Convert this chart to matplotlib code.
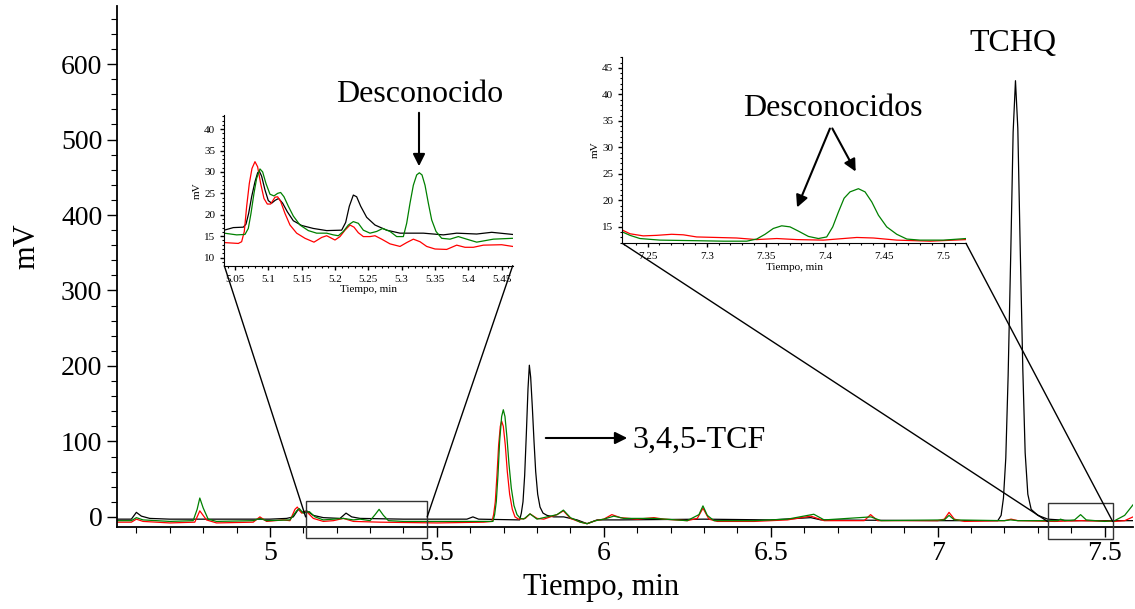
import numpy as np
import matplotlib
matplotlib.use("Agg")
import matplotlib.pyplot as plt
from matplotlib.patches import Rectangle, ConnectionPatch
from matplotlib.ticker import MultipleLocator

plt.rcParams["font.family"] = ["Liberation Serif", "DejaVu Serif"]

# main chromatogram, (time min, mV)
black = [(4.542, -3), (4.585, -3), (4.600, 6), (4.615, 1), (4.64, -2), (4.70, -3), (5.00, -3),
         (5.05, -2), (5.07, 0), (5.085, 10), (5.095, 6), (5.11, 8), (5.13, 2), (5.16, -1),
         (5.21, -2), (5.228, 5), (5.245, 0), (5.27, -2), (5.40, -3), (5.59, -3), (5.608, 0),
         (5.625, -3), (5.748, -4), (5.753, 5), (5.758, 20), (5.763, 55), (5.768, 110),
         (5.773, 170), (5.777, 201), (5.781, 185), (5.786, 145), (5.791, 100), (5.796, 60),
         (5.802, 30), (5.809, 13), (5.818, 5), (5.83, 2), (5.85, 0), (5.88, 0), (5.92, -4),
         (5.95, -9), (5.98, -4), (6.05, -4), (6.30, -3), (6.50, -4), (6.62, -1), (6.65, -4),
         (7.00, -5), (7.18, -5), (7.19, 2), (7.197, 25), (7.204, 78), (7.211, 187),
         (7.219, 352), (7.226, 510), (7.233, 578), (7.240, 515), (7.247, 360), (7.255, 195),
         (7.262, 85), (7.27, 30), (7.28, 10), (7.30, 2), (7.33, -3), (7.40, -5), (7.585, -5)]

red = [(4.542, -7), (4.585, -7), (4.60, -3), (4.62, -6), (4.70, -8), (4.775, -7), (4.79, 8),
       (4.81, -4), (4.84, -8), (4.95, -7), (4.97, 0), (4.99, -6), (5.04, -4), (5.06, -5),
       (5.075, 10), (5.082, 13), (5.095, 5), (5.11, 7), (5.13, -2), (5.16, -6), (5.19, -5),
       (5.22, -2), (5.25, -6), (5.33, -7), (5.50, -8), (5.64, -7), (5.665, -6), (5.670, 3),
       (5.675, 20), (5.680, 55), (5.685, 95), (5.690, 120), (5.694, 127), (5.699, 120),
       (5.705, 95), (5.711, 60), (5.718, 30), (5.726, 10), (5.734, 0), (5.745, -3),
       (5.765, -2), (5.779, 4), (5.80, -2), (5.82, -3), (5.86, 3), (5.879, 8), (5.90, -2),
       (5.93, -7), (5.95, -9), (5.975, -5), (6.00, -3), (6.024, 3), (6.05, -1), (6.10, -3),
       (6.15, -1), (6.18, -3), (6.25, -5), (6.28, -2), (6.297, 11.5), (6.315, -3), (6.34, -6),
       (6.45, -6), (6.55, -4), (6.62, 1), (6.66, -5), (6.78, -5), (6.799, 3), (6.82, -5),
       (7.00, -5), (7.02, -3), (7.034, 6), (7.05, -3), (7.08, -6), (7.20, -5), (7.22, -3),
       (7.24, -5), (7.35, -6), (7.43, -5), (7.53, -6), (7.56, -5), (7.585, 0)]

green = [(4.542, -5), (4.585, -5), (4.60, -1), (4.62, -4), (4.70, -6), (4.77, -5), (4.782, 10),
         (4.79, 25), (4.80, 12), (4.815, -3), (4.84, -6), (4.95, -5), (4.97, -2), (4.99, -5),
         (5.06, -4), (5.08, 8), (5.088, 11), (5.10, 5), (5.118, 7), (5.135, 0), (5.16, -4),
         (5.22, -2), (5.25, -4), (5.27, -3), (5.30, -5), (5.315, 3), (5.327, 10), (5.34, 2),
         (5.355, -5), (5.40, -6), (5.60, -6), (5.668, -6), (5.673, 3), (5.678, 20), (5.683, 55),
         (5.688, 100), (5.694, 133), (5.699, 142), (5.704, 133), (5.710, 105), (5.716, 70),
         (5.723, 38), (5.731, 15), (5.740, 3), (5.75, -2), (5.76, -3), (5.779, 4), (5.80, -3),
         (5.86, 3), (5.879, 9), (5.90, -1), (5.93, -7), (5.95, -9), (5.975, -5), (6.00, -3),
         (6.03, 1), (6.06, -2), (6.15, -2), (6.25, -5), (6.285, 3), (6.297, 14.6), (6.31, 2),
         (6.33, -5), (6.45, -5), (6.55, -3), (6.629, 3.5), (6.66, -4), (6.80, 0), (6.83, -5),
         (7.02, -4), (7.034, 2), (7.05, -4), (7.20, -5), (7.218, -4), (7.24, -5), (7.36, -5),
         (7.368, -3), (7.38, -5), (7.41, -4), (7.428, 3), (7.445, -4), (7.50, -6), (7.53, -5),
         (7.56, 2), (7.585, 16)]

# inset 1, 5.03 - 5.47 min
black_z1 = [(5.034, 16.4), (5.0475, 17.0), (5.0625, 17.1), (5.0665, 17.8), (5.0705, 20.3),
            (5.075, 24.2), (5.08, 27.7), (5.084, 29.8), (5.0865, 30.2), (5.09, 29.0),
            (5.095, 25.8), (5.10, 23.3), (5.105, 22.7), (5.1105, 23.4), (5.1155, 23.8),
            (5.1215, 22.7), (5.1285, 20.7), (5.1375, 18.6), (5.15, 17.5), (5.1675, 16.8),
            (5.1875, 16.3), (5.21, 16.4), (5.216, 18.2), (5.2215, 22.0), (5.2275, 24.6),
            (5.2325, 24.2), (5.2385, 22.0), (5.2475, 19.4), (5.26, 17.6), (5.2775, 16.4),
            (5.2975, 15.7), (5.3325, 15.7), (5.3625, 15.3), (5.3825, 15.7), (5.4125, 15.5),
            (5.435, 15.9), (5.4665, 15.4)]
red_z1 = [(5.034, 13.5), (5.055, 13.3), (5.06, 13.7), (5.064, 16.1), (5.0675, 21.9),
          (5.0715, 27.3), (5.0755, 30.8), (5.08, 32.4), (5.084, 31.2), (5.0885, 27.3),
          (5.0935, 23.8), (5.0985, 22.5), (5.1035, 22.5), (5.11, 24.1), (5.114, 24.2),
          (5.1185, 23.1), (5.125, 20.3), (5.1325, 17.6), (5.1425, 15.7), (5.155, 14.5),
          (5.1685, 13.6), (5.18, 14.7), (5.1875, 15.1), (5.195, 14.5), (5.20, 14.1),
          (5.2075, 14.9), (5.215, 16.4), (5.2225, 17.6), (5.2285, 17.1), (5.235, 15.8),
          (5.2425, 14.9), (5.2525, 14.9), (5.26, 15.1), (5.27, 14.3), (5.2825, 13.2),
          (5.2975, 12.6), (5.3075, 13.5), (5.3175, 14.3), (5.3275, 13.7), (5.3375, 12.6),
          (5.35, 12.0), (5.3675, 11.9), (5.3825, 12.9), (5.395, 12.4), (5.4075, 12.4),
          (5.4225, 12.9), (5.45, 13.0), (5.4665, 12.6)]
green_z1 = [(5.034, 15.7), (5.0525, 15.3), (5.065, 15.4), (5.07, 16.8), (5.074, 20.3),
            (5.0785, 25.0), (5.0825, 28.5), (5.0875, 30.7), (5.0915, 30.0), (5.0965, 27.3),
            (5.1025, 24.8), (5.1085, 24.4), (5.114, 25.0), (5.1185, 25.2), (5.1235, 24.2),
            (5.13, 22.0), (5.1375, 19.7), (5.1475, 17.6), (5.16, 16.3), (5.1725, 15.7),
            (5.1875, 15.7), (5.1975, 15.3), (5.205, 15.1), (5.2125, 16.1), (5.22, 17.6),
            (5.2275, 18.4), (5.235, 18.0), (5.2425, 16.4), (5.2525, 15.7), (5.2625, 16.1),
            (5.2715, 16.8), (5.2825, 16.1), (5.2925, 14.9), (5.3025, 14.9), (5.3075, 18.0),
            (5.3125, 22.7), (5.3175, 26.9), (5.3225, 29.3), (5.3265, 29.8), (5.3305, 29.3),
            (5.335, 26.9), (5.34, 22.7), (5.345, 18.8), (5.3515, 16.1), (5.36, 14.5),
            (5.3725, 14.3), (5.385, 14.9), (5.3975, 14.3), (5.4125, 13.6), (5.4375, 14.3),
            (5.4665, 14.5)]

# inset 2, 7.23 - 7.52 min
green_z2 = [(7.2286, 14.05), (7.2351, 13.4), (7.2435, 12.8), (7.2604, 12.5), (7.2886, 12.4),
            (7.314, 12.3), (7.3337, 12.3), (7.3421, 12.7), (7.3492, 13.6), (7.3562, 14.7),
            (7.3633, 15.2), (7.3703, 15.0), (7.3774, 14.2), (7.3858, 13.2), (7.3943, 12.8),
            (7.4013, 13.1), (7.4064, 15.0), (7.4112, 17.8), (7.416, 20.4), (7.421, 21.6),
            (7.4281, 22.2), (7.4337, 21.6), (7.4394, 19.7), (7.445, 17.2), (7.452, 15.0),
            (7.4605, 13.6), (7.469, 12.7), (7.4802, 12.5), (7.50, 12.5), (7.5191, 12.8)]
red_z2 = [(7.2286, 14.4), (7.2351, 13.7), (7.2463, 13.3), (7.2576, 13.4), (7.2703, 13.6),
          (7.2802, 13.5), (7.2914, 13.1), (7.3083, 13.0), (7.3252, 12.9), (7.3421, 12.6),
          (7.3591, 12.8), (7.376, 12.6), (7.3985, 12.5), (7.4154, 12.8), (7.4267, 13.0),
          (7.4408, 12.9), (7.4605, 12.5), (7.4887, 12.3), (7.5191, 12.6)]

W, H = 1135, 609
fig = plt.figure(figsize=(W / 100, H / 100), dpi=100)


def fx(px):
    return px / W


def fy(py):
    return 1 - py / H


def xy(t):
    a = np.array(t)
    return a[:, 0], a[:, 1]


def style(a, fs, maj, mnr):
    for s in ["top", "right"]:
        a.spines[s].set_visible(False)
    a.tick_params(labelsize=fs, length=maj, width=1)
    a.tick_params(which="minor", length=mnr, width=0.8)


ax = fig.add_axes([fx(117), fy(526.7), fx(1133 - 117), (526.7 - 6) / H])
for data, c in [(black, "black"), (red, "red"), (green, "green")]:
    ax.plot(*xy(data), color=c, lw=0.9)
ax.set_xlim(4.542, 7.585)
ax.set_ylim(-13, 677)
ax.set_xticks([5, 5.5, 6, 6.5, 7, 7.5])
ax.set_xticklabels(["5", "5.5", "6", "6.5", "7", "7.5"])
ax.xaxis.set_minor_locator(MultipleLocator(0.1))
ax.set_yticks(range(0, 601, 100))
ax.yaxis.set_minor_locator(MultipleLocator(20))
style(ax, 20, 7, 4)
for s in ["left", "bottom"]:
    ax.spines[s].set_linewidth(1.3)
ax.set_xlabel("Tiempo, min", fontsize=22)
ax.xaxis.set_label_coords(0.476, -0.088)
ax.set_ylabel("mV", fontsize=22)
ax.yaxis.set_label_coords(-0.074, 0.539)

# zoom boxes
ax.add_patch(Rectangle((5.107, -27.8), 5.471 - 5.107, 48.6, fill=False,
                       ec="#333333", lw=1, clip_on=False, zorder=5))
ax.add_patch(Rectangle((7.329, -29.5), 7.524 - 7.329, 48.5, fill=False,
                       ec="#333333", lw=1, clip_on=False, zorder=5))

# inset 1
ax1 = fig.add_axes([fx(224.3), fy(265.7), fx(512.7 - 224.3), (265.7 - 115) / H])
for data, c in [(black_z1, "black"), (red_z1, "red"), (green_z1, "green")]:
    ax1.plot(*xy(data), color=c, lw=0.9)
ax1.set_xlim(5.034, 5.4665)
ax1.set_ylim(8.1, 43.3)
ax1.set_xticks(np.arange(5.05, 5.46, 0.05))
ax1.set_xticklabels(["5.05", "5.1", "5.15", "5.2", "5.25", "5.3", "5.35", "5.4", "5.45"])
ax1.xaxis.set_minor_locator(MultipleLocator(0.01))
ax1.set_yticks(range(10, 41, 5))
ax1.yaxis.set_minor_locator(MultipleLocator(1))
style(ax1, 8, 3, 1.5)
ax1.set_xlabel("Tiempo, min", fontsize=8, labelpad=1)
ax1.set_ylabel("mV", fontsize=8, labelpad=2)
ax1.patch.set_alpha(0)

# inset 2
ax2 = fig.add_axes([fx(622.3), fy(243.3), fx(966 - 622.3), (243.3 - 56.7) / H])
for data, c in [(red_z2, "red"), (green_z2, "green")]:
    ax2.plot(*xy(data), color=c, lw=0.9)
ax2.set_xlim(7.2286, 7.519)
ax2.set_ylim(11.9, 47.1)
ax2.set_xticks([7.25, 7.3, 7.35, 7.4, 7.45, 7.5])
ax2.set_xticklabels(["7.25", "7.3", "7.35", "7.4", "7.45", "7.5"])
ax2.xaxis.set_minor_locator(MultipleLocator(0.01))
ax2.set_yticks(range(15, 46, 5))
ax2.yaxis.set_minor_locator(MultipleLocator(1))
style(ax2, 8, 3, 1.5)
ax2.set_xlabel("Tiempo, min", fontsize=8, labelpad=1)
ax2.set_ylabel("mV", fontsize=8, labelpad=2)
ax2.patch.set_alpha(0)

# connector lines
for ins, xa, xb, yb in [(ax1, 0, 5.107, 0), (ax1, 1, 5.471, 0),
                        (ax2, 0, 7.329, -6), (ax2, 1, 7.524, -6)]:
    con = ConnectionPatch(xyA=(xa, 0), coordsA=ins.transAxes, xyB=(xb, yb),
                          coordsB=ax.transData, color="black", lw=1)
    fig.add_artist(con)

# labels
arr = dict(arrowstyle="-|>", color="black", lw=1.5, mutation_scale=18)
fig.text(fx(420), fy(95), "Desconocido", fontsize=23, ha="center", va="center")
ax.annotate("", xy=(fx(419), fy(169)), xytext=(fx(419), fy(110)),
            xycoords="figure fraction", textcoords="figure fraction", arrowprops=arr)
fig.text(fx(833), fy(108), "Desconocidos", fontsize=23, ha="center", va="center")
ax.annotate("", xy=(fx(796), fy(210)), xytext=(fx(831), fy(126)),
            xycoords="figure fraction", textcoords="figure fraction", arrowprops=arr)
ax.annotate("", xy=(fx(857), fy(174)), xytext=(fx(831), fy(126)),
            xycoords="figure fraction", textcoords="figure fraction", arrowprops=arr)
fig.text(fx(632), fy(440), "3,4,5-TCF", fontsize=23, ha="left", va="center")
ax.annotate("", xy=(fx(630), fy(438)), xytext=(fx(543), fy(438)),
            xycoords="figure fraction", textcoords="figure fraction", arrowprops=arr)
fig.text(fx(1013), fy(43), "TCHQ", fontsize=23, ha="center", va="center")

fig.savefig("out.png", dpi=100)
